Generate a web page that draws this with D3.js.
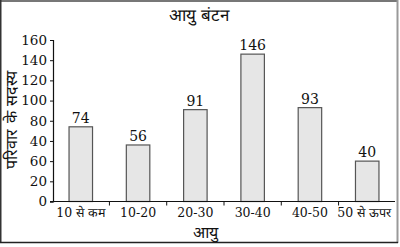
<!DOCTYPE html>
<html>
<head>
<meta charset="utf-8">
<script src="https://cdn.jsdelivr.net/npm/d3@7"></script>
<style>
  html, body { margin: 0; padding: 0; background: #fff; }
  svg { display: block; }
  text { font-family: "DejaVu Serif", "Liberation Serif", serif; fill: #111; }
</style>
</head>
<body>
<svg id="chart" width="400" height="247"></svg>
<script>
// Age groups and number of family members in each
const categories = ["10 से कम", "10-20", "20-30", "30-40", "40-50", "50 से ऊपर"];
const values = [74, 56, 91, 146, 93, 40];
const tickValues = [0, 20, 40, 60, 80, 100, 120, 140, 160];
const tickLabels = ["0", "20", "60", "40", "80", "100", "120", "140", "160"];
const title = "आयु बंटन";
const xTitle = "आयु";
const yTitle = "परिवार के सदस्य";

const FONT = '"DejaVu Serif", "Liberation Serif", serif';
const svg = d3.select("#chart");
const plot = { left: 53, right: 395, top: 40, bottom: 201.5 };

// outer frame
svg.append("line").attr("x1", 0).attr("x2", 398).attr("y1", 1).attr("y2", 1)
  .attr("stroke", "#777").attr("stroke-width", 2);
svg.append("line").attr("x1", 397.5).attr("x2", 397.5).attr("y1", 0).attr("y2", 243)
  .attr("stroke", "#999").attr("stroke-width", 2);
svg.append("line").attr("x1", 0.75).attr("x2", 0.75).attr("y1", 0).attr("y2", 243)
  .attr("stroke", "#333").attr("stroke-width", 1.5);
svg.append("line").attr("x1", 0).attr("x2", 398).attr("y1", 242.5).attr("y2", 242.5)
  .attr("stroke", "#222").attr("stroke-width", 1.5);

const x = d3.scaleBand()
  .domain(categories)
  .range([plot.left, plot.right])
  .paddingInner(0.59)
  .paddingOuter(0.28);

const y = d3.scaleLinear().domain([0, 160]).range([plot.bottom, plot.top]);

// bars
svg.append("g").selectAll("rect")
  .data(values)
  .join("rect")
  .attr("x", (d, i) => x(categories[i]))
  .attr("y", d => y(d))
  .attr("width", x.bandwidth())
  .attr("height", d => y(0) - y(d))
  .attr("fill", "#e6e6e6")
  .attr("stroke", "#555")
  .attr("stroke-width", 1.2);

// value labels
svg.append("g").selectAll("text")
  .data(values)
  .join("text")
  .attr("x", (d, i) => x(categories[i]) + x.bandwidth() / 2)
  .attr("y", d => y(d) - 4)
  .attr("text-anchor", "middle")
  .attr("font-size", 14)
  .text(d => d);

// y axis
const yAxis = d3.axisLeft(y)
  .tickValues(tickValues)
  .tickFormat((d, i) => tickLabels[i])
  .tickSize(3)
  .tickPadding(3);
const gy = svg.append("g").attr("transform", `translate(${plot.left},0)`).call(yAxis);
gy.select(".domain").attr("stroke", "#111").attr("stroke-width", 1.2);
gy.selectAll(".tick line").attr("stroke", "#111");
gy.selectAll("text").attr("font-size", 13.5).attr("fill", "#111").style("font-family", FONT);

// x axis: labels under each band, tick marks on band boundaries
const xAxis = d3.axisBottom(x).tickSize(0).tickPadding(7);
const gx = svg.append("g").attr("transform", `translate(0,${plot.bottom})`).call(xAxis);
gx.select(".domain").remove();
gx.selectAll("text").attr("font-size", 12.5).attr("fill", "#111").style("font-family", FONT);
gx.selectAll(".tick").filter((d, i) => i === categories.length - 1)
  .select("text").attr("dx", -3);

svg.append("line")
  .attr("x1", plot.left - 3).attr("x2", plot.right)
  .attr("y1", plot.bottom).attr("y2", plot.bottom)
  .attr("stroke", "#111").attr("stroke-width", 1.2);

svg.append("g").selectAll("line")
  .data(categories.slice(1))
  .join("line")
  .attr("x1", d => x(d) - x.step() * x.paddingInner() / 2)
  .attr("x2", d => x(d) - x.step() * x.paddingInner() / 2)
  .attr("y1", plot.bottom).attr("y2", plot.bottom + 4)
  .attr("stroke", "#111");

// titles
svg.append("text").attr("x", 199).attr("y", 21)
  .attr("text-anchor", "middle").attr("font-size", 17).text(title);
svg.append("text").attr("x", 205).attr("y", 238)
  .attr("text-anchor", "middle").attr("font-size", 16).text(xTitle);
svg.append("text")
  .attr("transform", "translate(17,120) rotate(-90)")
  .attr("text-anchor", "middle").attr("font-size", 16).text(yTitle);
</script>
</body>
</html>
